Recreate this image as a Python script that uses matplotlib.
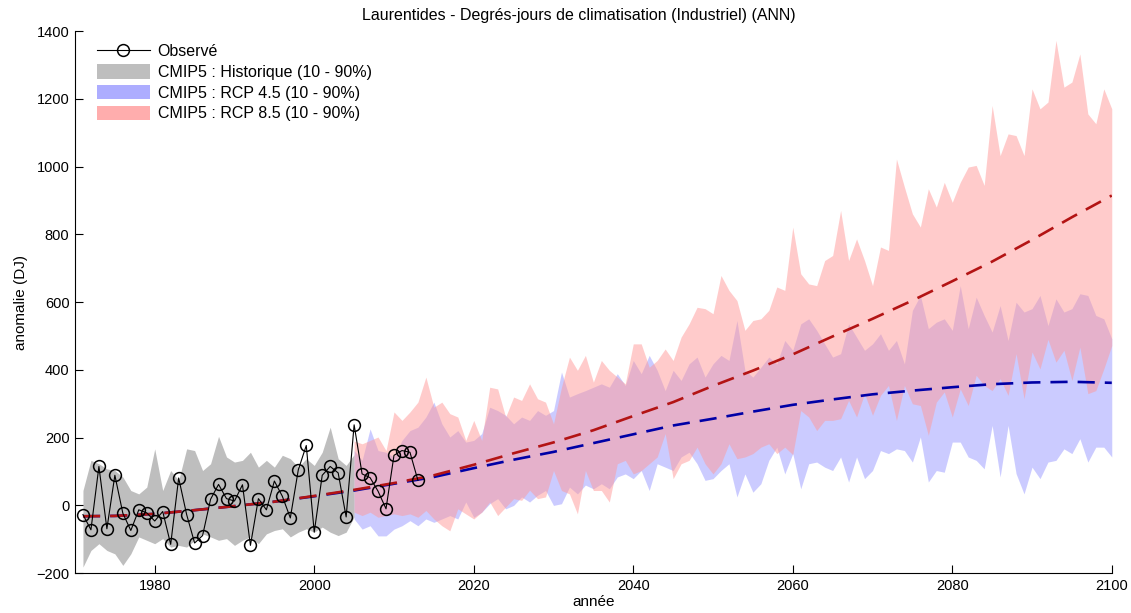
import numpy as np
import matplotlib
matplotlib.use("Agg")
import matplotlib.pyplot as plt
from matplotlib.patches import Patch
from matplotlib.lines import Line2D

plt.rcParams['font.family'] = ['Liberation Sans', 'DejaVu Sans']

# ---------------- data ----------------
hist_years = list(range(1971, 2006))
hist_low = [-182, -133, -113, -133, -143, -177, -143, -93, -103, -113, -98, -123, -118, -123,
            -103, -84, -93, -103, -98, -118, -103, -93, -113, -84, -74, -69, -93, -79, -69,
            -79, -64, -79, -89, -79, -34]
hist_high = [44, 133, 123, 108, 103, 84, 44, 34, 54, 167, 44, 103, 74, 167, 162, 103, 123,
             204, 143, 128, 133, 157, 113, 133, 113, 148, 138, 113, 138, 118, 157, 231, 138,
             118, 150]

obs_years = list(range(1971, 2014))
obs_values = [-27, -72, 115, -69, 89, -23, -74, -13, -22, -46, -18, -115, 81, -27, -111, -89,
              18, 62, 20, 13, 61, -118, 20, -13, 72, 27, -37, 105, 177, -79, 89, 115, 96, -34,
              238, 93, 82, 42, -10, 148, 162, 157, 74]

proj_years = list(range(2005, 2101))
rcp85_high = [190, 182, 192, 202, 162, 276, 251, 276, 305, 379, 290, 305, 271, 261, 192, 251,
              192, 349, 344, 261, 320, 310, 359, 315,
              305, 241, 349, 438, 399, 443, 364, 428, 399, 379, 359, 477, 477, 408, 428, 462,
              428, 497, 536, 585, 581, 566, 679, 635,
              605, 517, 546, 551, 576, 645, 635, 822, 684, 654, 649, 723, 738, 871, 723, 787,
              723, 649, 763, 753, 1023, 940, 861, 822,
              935, 881, 954, 895, 954, 999, 1004, 945, 1181, 1033, 1097, 1092, 1033, 1230,
              1171, 1191, 1373, 1235, 1250, 1333, 1156, 1127, 1230, 1171]
rcp85_low = [-20, -30, -20, -35, -30, -25, -30, -25, -35, -15, -40, -60, -75, -10, -25, -40,
             -20, 10, -30, -5, 20, 15, 45, 20,
             25, 103, 44, 34, -25, 103, 44, 44, 10, 123, 133, 93, 103, 123, 143, 212, 79, 123,
             133, 172, 123, 93, 123, 182,
             138, 143, 153, 172, 182, 153, 172, 150, 280, 261, 221, 251, 251, 256, 310, 261,
             330, 266, 325, 354, 251, 354, 300, 295,
             207, 305, 335, 261, 344, 295, 384, 354, 339, 374, 325, 448, 315, 453, 403, 490,
             423, 458, 369, 467, 330, 339, 403, 472]
rcp45_high = [162, 133, 226, 162, 157, 143, 192, 221, 231, 261, 305, 241, 202, 221, 187, 192,
              212, 290, 280, 266, 241, 261, 251, 280,
              266, 280, 394, 320, 330, 339, 349, 359, 349, 389, 354, 428, 389, 443, 399, 339,
              399, 369, 418, 438, 379, 418, 443, 428,
              546, 399, 379, 408, 438, 418, 487, 458, 536, 551, 517, 477, 438, 448, 536, 497,
              458, 477, 507, 458, 487, 418, 576, 620,
              522, 541, 551, 517, 649, 522, 615, 561, 512, 590, 487, 600, 571, 581, 620, 531,
              610, 571, 581, 625, 620, 561, 551, 492]
rcp45_low = [-40, -70, -60, -90, -90, -70, -60, -45, -60, -40, -50, -40, -30, -40, 10, -35,
             -20, 5, 20, -10, 0, 25, 10, 30,
             44, 0, 5, 54, 34, 60, 49, 64, 49, 84, 93, 79, 103, 44, 123, 113, 103, 143, 157,
             123, 74, 79, 103, 123,
             25, 93, 39, 64, 133, 172, 93, 153, 49, 123, 128, 113, 103, 143, 69, 143, 79, 103,
             162, 153, 167, 162, 128, 202,
             69, 103, 98, 187, 187, 143, 133, 108, 236, 84, 236, 94, 34, 113, 79, 128, 133,
             167, 153, 197, 128, 172, 172, 143]

trend_years = [1971, 1975, 1980, 1985, 1990, 1995, 2000, 2005, 2010, 2015, 2020, 2025, 2030,
               2035, 2040, 2045, 2050, 2055, 2060, 2065, 2070, 2075, 2080, 2085, 2090, 2095,
               2100]
rcp85_mean = [-32, -31, -25, -14, -2, 11, 28, 46, 66, 89, 120, 154, 186, 222, 264, 305, 353,
              398, 446, 499, 551, 605, 662, 720, 784, 851, 915]
rcp45_mean = [-32, -31, -25, -14, -2, 11, 27, 44, 64, 84, 110, 135, 158, 184, 210, 236, 256,
              277, 297, 313, 328, 339, 349, 358, 363, 365, 362]

x_ticks = [1980, 2000, 2020, 2040, 2060, 2080, 2100]
y_ticks = [-200, 0, 200, 400, 600, 800, 1000, 1200, 1400]

title = "Laurentides - Degrés-jours de climatisation (Industriel) (ANN)"
labels = ["Observé", "CMIP5 : Historique (10 - 90%)", "CMIP5 : RCP 4.5 (10 - 90%)",
          "CMIP5 : RCP 8.5 (10 - 90%)"]

# ---------------- plot ----------------
fig = plt.figure(figsize=(11.31, 6.13), dpi=100)
ax = fig.add_axes([0.0663, 0.065, 0.9167, 0.884])

gray_c = (0.745, 0.745, 0.745)
blue_c = (0.6, 0.6, 1.0)
pink_c = (1.0, 0.6, 0.6)

ax.fill_between(hist_years, hist_low, hist_high, color=gray_c, linewidth=0, zorder=1)
ax.fill_between(proj_years, rcp45_low, rcp45_high, color=blue_c, alpha=0.5, linewidth=0, zorder=2)
ax.fill_between(proj_years, rcp85_low, rcp85_high, color=pink_c, alpha=0.5, linewidth=0, zorder=3)

ax.plot(trend_years, rcp45_mean, color=(0.0, 0.0, 0.65), lw=1.9, dashes=(6.5, 3.8), zorder=4)
ax.plot(trend_years, rcp85_mean, color=(0.7, 0.08, 0.08), lw=1.9, dashes=(6.5, 3.8), zorder=5)

ax.plot(obs_years, obs_values, color='black', lw=0.8, marker='o', markersize=8.5,
        markerfacecolor='none', markeredgecolor='black', markeredgewidth=1.1, zorder=6)

ax.set_xlim(1970, 2100)
ax.set_ylim(-200, 1400)
ax.set_xticks(x_ticks)
ax.set_yticks(y_ticks)
ax.tick_params(direction='in', length=6, width=0.8, labelsize=10.5, pad=4)
for s in ['top', 'right']:
    ax.spines[s].set_visible(False)
for s in ['left', 'bottom']:
    ax.spines[s].set_linewidth(0.8)

ax.set_title(title, fontsize=11.5, pad=8, x=0.486)
ax.set_xlabel("année", fontsize=11, labelpad=2)
ax.set_ylabel("anomalie (DJ)", fontsize=11, labelpad=6)

handles = [
    Line2D([0], [0], color='black', lw=0.8, marker='o', markersize=8.5,
           markerfacecolor='none', markeredgecolor='black', markeredgewidth=1.1),
    Patch(facecolor=gray_c, edgecolor='none'),
    Patch(facecolor=(0.68, 0.68, 1.0), edgecolor='none'),
    Patch(facecolor=(1.0, 0.68, 0.68), edgecolor='none'),
]
ax.legend(handles, labels, loc='upper left', bbox_to_anchor=(0.012, 0.995), frameon=False,
          fontsize=11.5, handlelength=3.3, handleheight=1.0, labelspacing=0.32,
          handletextpad=0.5, borderaxespad=0.2)

fig.savefig("out.png", dpi=100)
